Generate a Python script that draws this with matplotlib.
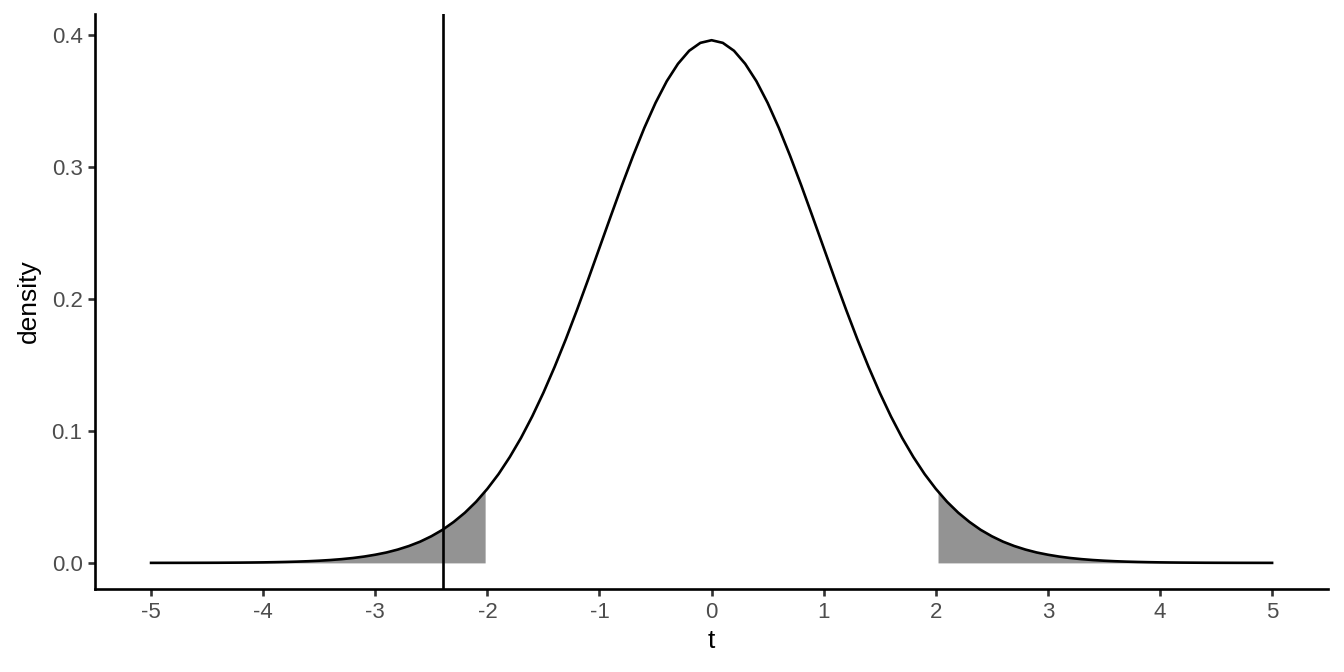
import matplotlib
matplotlib.use('Agg')
import matplotlib.pyplot as plt
import numpy as np

# t values (step 0.1, -5..5) and the density (symmetric)
t_half = np.round(np.arange(0, 5.01, 0.1), 1)
dens_half = [0.3964, 0.3944, 0.3884, 0.3785, 0.3653, 0.3489, 0.3299, 0.3088, 0.2863, 0.2628,
             0.2390, 0.2152, 0.1920, 0.1697, 0.1487, 0.1291, 0.1111, 0.0948, 0.0803, 0.0674,
             0.0562, 0.0464, 0.0381, 0.0311, 0.0251, 0.0202, 0.0161, 0.0128, 0.0101, 0.0079,
             0.0062, 0.0048, 0.0037, 0.00285, 0.00218, 0.00166, 0.00126, 0.00095, 0.00072, 0.00054,
             0.00040, 0.00030, 0.00022, 0.00017, 0.00012, 0.00009, 0.00007, 0.00005, 0.00004, 0.00003,
             0.00002]
t_vals = np.concatenate([-t_half[:0:-1], t_half])
density = np.concatenate([dens_half[:0:-1], dens_half])

crit = 2.02      # rejection region boundary
t_obs = -2.4     # observed statistic
x_ticks = [-5, -4, -3, -2, -1, 0, 1, 2, 3, 4, 5]
y_ticks = [0.0, 0.1, 0.2, 0.3, 0.4]

plt.rcParams['font.family'] = ['Liberation Sans', 'DejaVu Sans']

fig = plt.figure(figsize=(13.44, 6.72), dpi=100)
ax = fig.add_axes([0.0707, 0.1235, 0.9175, 0.8555])

# shaded tails
for lo, hi in [(-5, -crit), (crit, 5)]:
    xs = np.concatenate([[lo], t_vals[(t_vals > lo) & (t_vals < hi)], [hi]])
    ys = np.interp(xs, t_vals, density)
    ax.fill_between(xs, 0, ys, color='#939393', linewidth=0)

ax.plot(t_vals, density, color='black', linewidth=1.9)
ax.axvline(t_obs, color='black', linewidth=1.9)

ax.set_xlim(-5.5, 5.5)
ax.set_ylim(-0.0198, 0.4162)
ax.set_xticks(x_ticks)
ax.set_xticklabels([str(v) for v in x_ticks])
ax.set_yticks(y_ticks)
ax.set_yticklabels(['%.1f' % v for v in y_ticks])

for s in ['top', 'right']:
    ax.spines[s].set_visible(False)
for s in ['left', 'bottom']:
    ax.spines[s].set_linewidth(1.9)
ax.tick_params(direction='out', length=5, width=1.9, color='#333333',
               labelcolor='#4D4D4D', labelsize=16, pad=4)

ax.set_xlabel('t', fontsize=19, labelpad=5)
ax.set_ylabel('density', fontsize=19, labelpad=8)

fig.savefig('out.png', dpi=100)
